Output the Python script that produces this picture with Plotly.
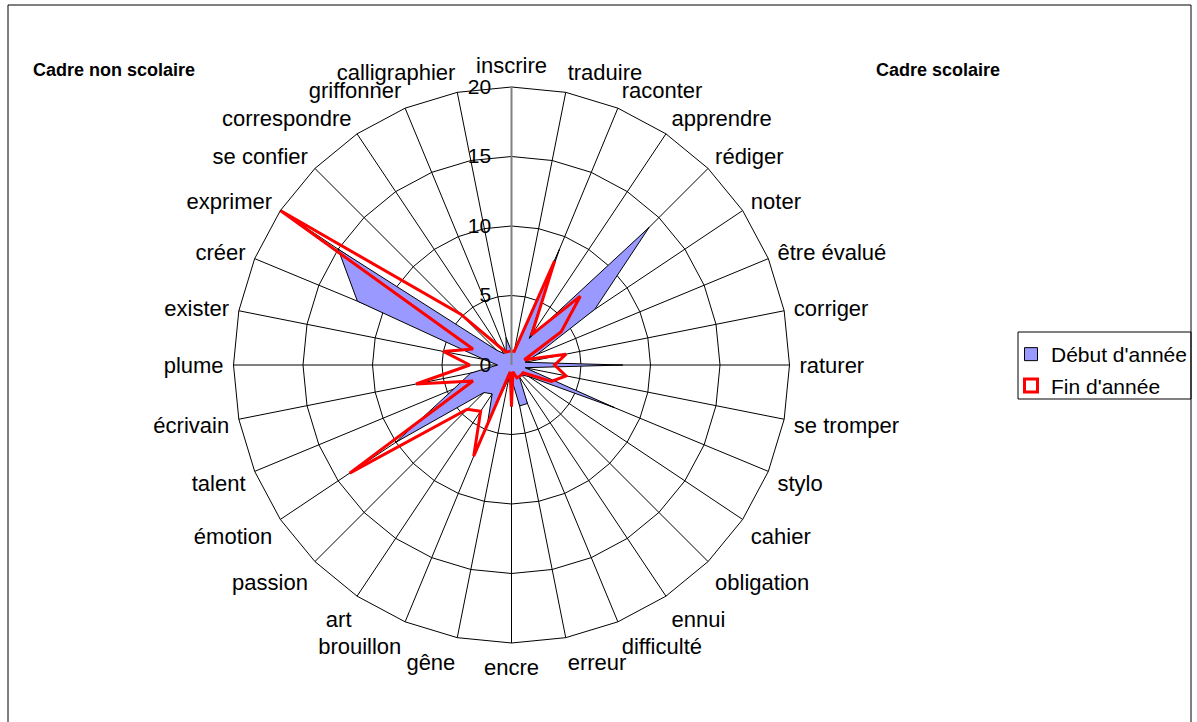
import plotly.graph_objects as go

categories = ["inscrire", "traduire", "raconter", "apprendre", "rédiger", "noter",
              "être évalué", "corriger", "raturer", "se tromper", "stylo", "cahier",
              "obligation", "ennui", "difficulté", "erreur", "encre", "gêne",
              "brouillon", "art", "passion", "émotion", "talent", "écrivain",
              "plume", "exister", "créer", "exprimer", "se confier", "correspondre",
              "griffonner", "calligraphier"]

debut = [1, 1, 9, 2.3, 14, 7.2, 2, 1, 8, 1, 8, 1.5,
         1, 1, 3, 3, 1, 1, 4.5, 2.5, 2.8, 10, 4.5, 3,
         1, 2, 12, 15, 1.5, 1, 1, 2]

fin = [1, 1, 8.1, 2.6, 7, 4.3, 1, 4, 3.1, 4, 3.1, 1,
       1, 1, 1, 0.5, 3, 0.5, 7.1, 4, 4.5, 14, 3, 7,
       3, 5, 3, 20, 5.2, 1.6, 1, 1]

radial_ticks = [0, 5, 10, 15, 20]
series_names = ["Début d'année", "Fin d'année"]

W, H = 1197, 722
cx, cy, R = 511.5, 365.0, 278.0

fig = go.Figure()
fig.add_trace(go.Scatterpolar(
    r=debut + debut[:1], theta=categories + categories[:1],
    mode="lines", fill="toself", fillcolor="#9999FF",
    line=dict(color="black", width=1), showlegend=False, name=series_names[0]))
fig.add_trace(go.Scatterpolar(
    r=fin + fin[:1], theta=categories + categories[:1],
    mode="lines", line=dict(color="#FF0000", width=3),
    showlegend=False, name=series_names[1]))
# legend entries
fig.add_trace(go.Scatterpolar(
    r=[None], theta=[None], mode="markers", name=series_names[0],
    legendgroup="a",
    marker=dict(symbol="square", size=13, color="#9999FF",
                line=dict(color="black", width=1))))
fig.add_trace(go.Scatterpolar(
    r=[None], theta=[None], mode="markers", name=series_names[1],
    legendgroup="b",
    marker=dict(symbol="square-open", size=13, color="#FF0000",
                line=dict(color="#FF0000", width=3))))

font_family = "Liberation Sans, Arial, sans-serif"

fig.update_layout(
    width=W, height=H,
    margin=dict(l=0, r=0, t=0, b=0),
    paper_bgcolor="white", plot_bgcolor="white",
    font=dict(family=font_family, size=22, color="black"),
    polar=dict(
        domain=dict(x=[(cx - R) / W, (cx + R) / W],
                    y=[(H - cy - R) / H, (H - cy + R) / H]),
        bgcolor="white",
        gridshape="linear",
        angularaxis=dict(
            type="category", categoryorder="array", categoryarray=categories,
            direction="clockwise", rotation=90,
            showgrid=True, gridcolor="black", gridwidth=1,
            showline=True, linecolor="black", linewidth=1,
            ticks="outside", ticklen=5, tickcolor="rgba(0,0,0,0)",
            tickfont=dict(size=22, family=font_family)),
        radialaxis=dict(
            range=[0, 20], tickvals=radial_ticks, angle=90, tickangle=90,
            side="counterclockwise",
            showgrid=True, gridcolor="black", gridwidth=1,
            showline=True, linecolor="#808080", linewidth=2,
            ticks="outside", ticklen=12, tickcolor="rgba(0,0,0,0)",
            tickfont=dict(size=21, family=font_family)),
    ),
    showlegend=True,
    legend=dict(
        x=1011 / W, y=1 - 334 / H, xanchor="left", yanchor="top",
        bgcolor="rgba(0,0,0,0)", borderwidth=0,
        tracegroupgap=1,
        font=dict(size=21, family=font_family)),
    annotations=[
        dict(text="<b>Cadre non scolaire</b>", x=31 / W, y=1 - 70 / H,
             xref="paper", yref="paper", xanchor="left", yanchor="middle",
             showarrow=False, font=dict(size=18, family=font_family)),
        dict(text="<b>Cadre scolaire</b>", x=874 / W, y=1 - 70 / H,
             xref="paper", yref="paper", xanchor="left", yanchor="middle",
             showarrow=False, font=dict(size=18, family=font_family)),
    ],
    shapes=[
        dict(type="rect", xref="paper", yref="paper",
             x0=8 / W, x1=1191 / W, y0=-0.01, y1=1 - 5 / H,
             line=dict(color="black", width=1)),
        dict(type="rect", xref="paper", yref="paper",
             x0=1018 / W, x1=1191 / W, y0=1 - 399 / H, y1=1 - 332 / H,
             line=dict(color="black", width=1), layer="below"),
    ],
)

fig.write_html("out.html", config={"displayModeBar": False},
               post_script="document.body.style.margin='0';document.body.style.overflow='hidden';")
